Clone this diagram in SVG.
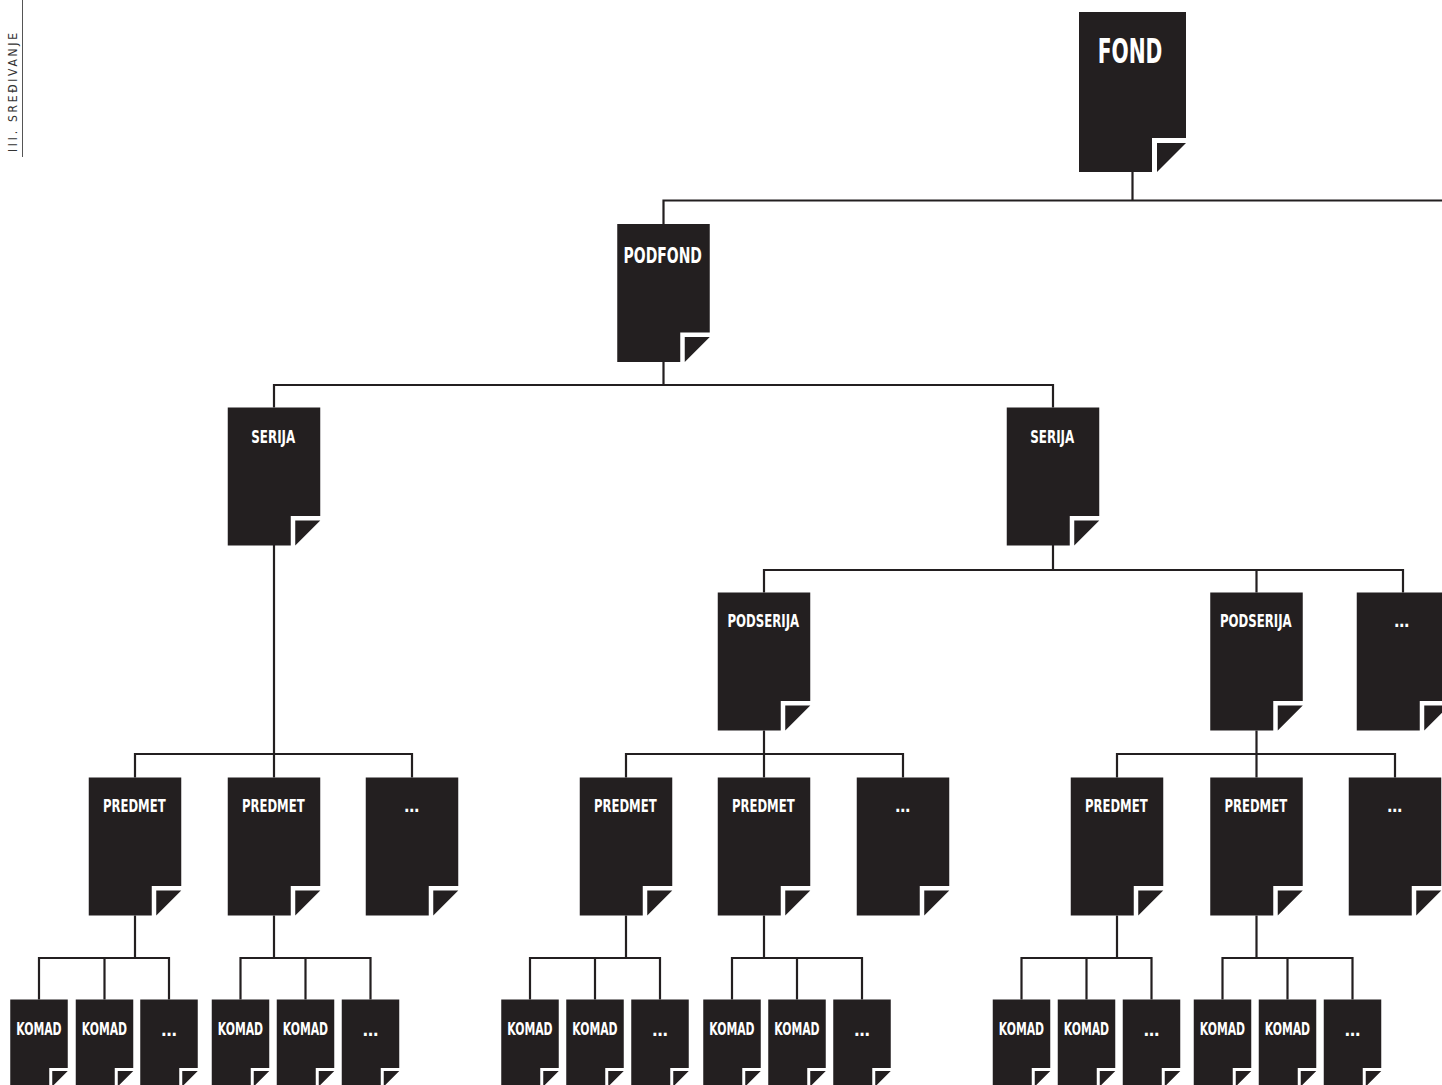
<svg xmlns="http://www.w3.org/2000/svg" xmlns:xlink="http://www.w3.org/1999/xlink" width="1442" height="1085" viewBox="0 0 1442 1085">
<style>
.pg{fill:#231f20}
.lbl{fill:#ffffff;font-family:"Liberation Sans Narrow","DejaVu Sans Condensed","Roboto Condensed","Liberation Sans",sans-serif;font-weight:700;font-stretch:condensed;text-anchor:middle}
.m{font-size:17.5px}
.k{font-size:18.5px}
.c{fill:none;stroke:#231f20;stroke-width:2.2;stroke-linejoin:miter;stroke-linecap:butt}
.side{fill:#333333;font-family:"Liberation Sans Narrow","DejaVu Sans Condensed","Liberation Sans",sans-serif;font-size:12px}
</style>
<defs>
<path id="pL" class="pg" d="M0,0H107V126H73V160H0Z M78,131H107L78,160Z"/>
<path id="pM" class="pg" d="M0,0H92.5V108.5H63V138H0Z M67.5,113H92.5L67.5,138Z"/>
<path id="pS" class="pg" d="M0,0H57.5V68.5H39V87H0Z M42,71.5H57.5L42,87Z"/>
</defs>
<rect width="1442" height="1085" fill="#ffffff"/>

<g id="side-label">
<line x1="22.5" y1="0" x2="22.5" y2="157" stroke="#555555" stroke-width="1"/>
<text class="side" transform="translate(17,152) rotate(-90)" textLength="119" lengthAdjust="spacing">III. SREĐIVANJE</text>
</g>

<g id="connectors">
<path class="c" d="M1132.5,172V200.5 M663.5,224V200.5H1442"/>
<path class="c" d="M663.5,362V385 M274,407.5V385H1053V407.5"/>
<path class="c" d="M274,544.5V777.5 M135,777.5V754H412V777.5"/>
<path class="c" d="M1053,544.5V570 M764,592.5V570H1403V592.5 M1256.5,570V592.5"/>
<path class="c" d="M764,730.5V777.5 M626,777.5V754H903V777.5"/>
<path class="c" d="M1256.5,730.5V777.5 M1117,777.5V754H1395V777.5"/>
<path class="c" d="M135,915.5V958 M39,999.5V958H169V999.5 M104.5,958V999.5"/>
<path class="c" d="M274,915.5V958 M240.5,999.5V958H370.5V999.5 M305.5,958V999.5"/>
<path class="c" d="M626,915.5V958 M530,999.5V958H660V999.5 M595,958V999.5"/>
<path class="c" d="M764,915.5V958 M732,999.5V958H862V999.5 M797,958V999.5"/>
<path class="c" d="M1117,915.5V958 M1021.5,999.5V958H1151.5V999.5 M1086.5,958V999.5"/>
<path class="c" d="M1256.5,915.5V958 M1222.5,999.5V958H1352.5V999.5 M1287.5,958V999.5"/>
</g>

<g id="fond" transform="translate(1079,12)"><use xlink:href="#pL"/><text class="lbl" x="51" y="51.3" font-size="34" textLength="64.7" lengthAdjust="spacingAndGlyphs">FOND</text></g>
<g id="podfond" transform="translate(617.25,224)"><use xlink:href="#pM"/><text class="lbl" x="45.5" y="38.7" font-size="22" textLength="78.3" lengthAdjust="spacingAndGlyphs">PODFOND</text></g>

<g id="serija-1" transform="translate(227.75,407.5)"><use xlink:href="#pM"/><text class="lbl m" x="45.5" y="35" textLength="44" lengthAdjust="spacingAndGlyphs">SERIJA</text></g>
<g id="serija-2" transform="translate(1006.75,407.5)"><use xlink:href="#pM"/><text class="lbl m" x="45.5" y="35" textLength="44" lengthAdjust="spacingAndGlyphs">SERIJA</text></g>

<g id="podserija-1" transform="translate(717.75,592.5)"><use xlink:href="#pM"/><text class="lbl m" x="45.5" y="34.3" textLength="71.7" lengthAdjust="spacingAndGlyphs">PODSERIJA</text></g>
<g id="podserija-2" transform="translate(1210.25,592.5)"><use xlink:href="#pM"/><text class="lbl m" x="45.5" y="34.3" textLength="71.7" lengthAdjust="spacingAndGlyphs">PODSERIJA</text></g>
<g id="podserija-more" transform="translate(1356.75,592.5)"><use xlink:href="#pM"/><text class="lbl m" x="45" y="34.5" textLength="15" lengthAdjust="spacingAndGlyphs">…</text></g>

<g id="predmet-1" transform="translate(88.75,777.5)"><use xlink:href="#pM"/><text class="lbl m" x="45.5" y="34.2" textLength="62.7" lengthAdjust="spacingAndGlyphs">PREDMET</text></g>
<g id="predmet-2" transform="translate(227.75,777.5)"><use xlink:href="#pM"/><text class="lbl m" x="45.5" y="34.2" textLength="62.7" lengthAdjust="spacingAndGlyphs">PREDMET</text></g>
<g id="predmet-3" transform="translate(365.75,777.5)"><use xlink:href="#pM"/><text class="lbl m" x="46" y="34.5" textLength="15" lengthAdjust="spacingAndGlyphs">…</text></g>
<g id="predmet-4" transform="translate(579.75,777.5)"><use xlink:href="#pM"/><text class="lbl m" x="45.5" y="34.2" textLength="62.7" lengthAdjust="spacingAndGlyphs">PREDMET</text></g>
<g id="predmet-5" transform="translate(717.75,777.5)"><use xlink:href="#pM"/><text class="lbl m" x="45.5" y="34.2" textLength="62.7" lengthAdjust="spacingAndGlyphs">PREDMET</text></g>
<g id="predmet-6" transform="translate(856.75,777.5)"><use xlink:href="#pM"/><text class="lbl m" x="46" y="34.5" textLength="15" lengthAdjust="spacingAndGlyphs">…</text></g>
<g id="predmet-7" transform="translate(1070.75,777.5)"><use xlink:href="#pM"/><text class="lbl m" x="45.5" y="34.2" textLength="62.7" lengthAdjust="spacingAndGlyphs">PREDMET</text></g>
<g id="predmet-8" transform="translate(1210.25,777.5)"><use xlink:href="#pM"/><text class="lbl m" x="45.5" y="34.2" textLength="62.7" lengthAdjust="spacingAndGlyphs">PREDMET</text></g>
<g id="predmet-9" transform="translate(1348.75,777.5)"><use xlink:href="#pM"/><text class="lbl m" x="46" y="34.5" textLength="15" lengthAdjust="spacingAndGlyphs">…</text></g>

<g id="komad-1-1" transform="translate(10.25,999.5)"><use xlink:href="#pS"/><text class="lbl k" x="28.7" y="35.5" textLength="45.3" lengthAdjust="spacingAndGlyphs">KOMAD</text></g>
<g id="komad-1-2" transform="translate(75.75,999.5)"><use xlink:href="#pS"/><text class="lbl k" x="28.7" y="35.5" textLength="45.3" lengthAdjust="spacingAndGlyphs">KOMAD</text></g>
<g id="komad-1-3" transform="translate(140.25,999.5)"><use xlink:href="#pS"/><text class="lbl k" x="28.7" y="36" textLength="15.6" lengthAdjust="spacingAndGlyphs">…</text></g>

<g id="komad-2-1" transform="translate(211.75,999.5)"><use xlink:href="#pS"/><text class="lbl k" x="28.7" y="35.5" textLength="45.3" lengthAdjust="spacingAndGlyphs">KOMAD</text></g>
<g id="komad-2-2" transform="translate(276.75,999.5)"><use xlink:href="#pS"/><text class="lbl k" x="28.7" y="35.5" textLength="45.3" lengthAdjust="spacingAndGlyphs">KOMAD</text></g>
<g id="komad-2-3" transform="translate(341.75,999.5)"><use xlink:href="#pS"/><text class="lbl k" x="28.7" y="36" textLength="15.6" lengthAdjust="spacingAndGlyphs">…</text></g>

<g id="komad-3-1" transform="translate(501.25,999.5)"><use xlink:href="#pS"/><text class="lbl k" x="28.7" y="35.5" textLength="45.3" lengthAdjust="spacingAndGlyphs">KOMAD</text></g>
<g id="komad-3-2" transform="translate(566.25,999.5)"><use xlink:href="#pS"/><text class="lbl k" x="28.7" y="35.5" textLength="45.3" lengthAdjust="spacingAndGlyphs">KOMAD</text></g>
<g id="komad-3-3" transform="translate(631.25,999.5)"><use xlink:href="#pS"/><text class="lbl k" x="28.7" y="36" textLength="15.6" lengthAdjust="spacingAndGlyphs">…</text></g>

<g id="komad-4-1" transform="translate(703.25,999.5)"><use xlink:href="#pS"/><text class="lbl k" x="28.7" y="35.5" textLength="45.3" lengthAdjust="spacingAndGlyphs">KOMAD</text></g>
<g id="komad-4-2" transform="translate(768.25,999.5)"><use xlink:href="#pS"/><text class="lbl k" x="28.7" y="35.5" textLength="45.3" lengthAdjust="spacingAndGlyphs">KOMAD</text></g>
<g id="komad-4-3" transform="translate(833.25,999.5)"><use xlink:href="#pS"/><text class="lbl k" x="28.7" y="36" textLength="15.6" lengthAdjust="spacingAndGlyphs">…</text></g>

<g id="komad-5-1" transform="translate(992.75,999.5)"><use xlink:href="#pS"/><text class="lbl k" x="28.7" y="35.5" textLength="45.3" lengthAdjust="spacingAndGlyphs">KOMAD</text></g>
<g id="komad-5-2" transform="translate(1057.75,999.5)"><use xlink:href="#pS"/><text class="lbl k" x="28.7" y="35.5" textLength="45.3" lengthAdjust="spacingAndGlyphs">KOMAD</text></g>
<g id="komad-5-3" transform="translate(1122.75,999.5)"><use xlink:href="#pS"/><text class="lbl k" x="28.7" y="36" textLength="15.6" lengthAdjust="spacingAndGlyphs">…</text></g>

<g id="komad-6-1" transform="translate(1193.75,999.5)"><use xlink:href="#pS"/><text class="lbl k" x="28.7" y="35.5" textLength="45.3" lengthAdjust="spacingAndGlyphs">KOMAD</text></g>
<g id="komad-6-2" transform="translate(1258.75,999.5)"><use xlink:href="#pS"/><text class="lbl k" x="28.7" y="35.5" textLength="45.3" lengthAdjust="spacingAndGlyphs">KOMAD</text></g>
<g id="komad-6-3" transform="translate(1323.75,999.5)"><use xlink:href="#pS"/><text class="lbl k" x="28.7" y="36" textLength="15.6" lengthAdjust="spacingAndGlyphs">…</text></g>
</svg>
